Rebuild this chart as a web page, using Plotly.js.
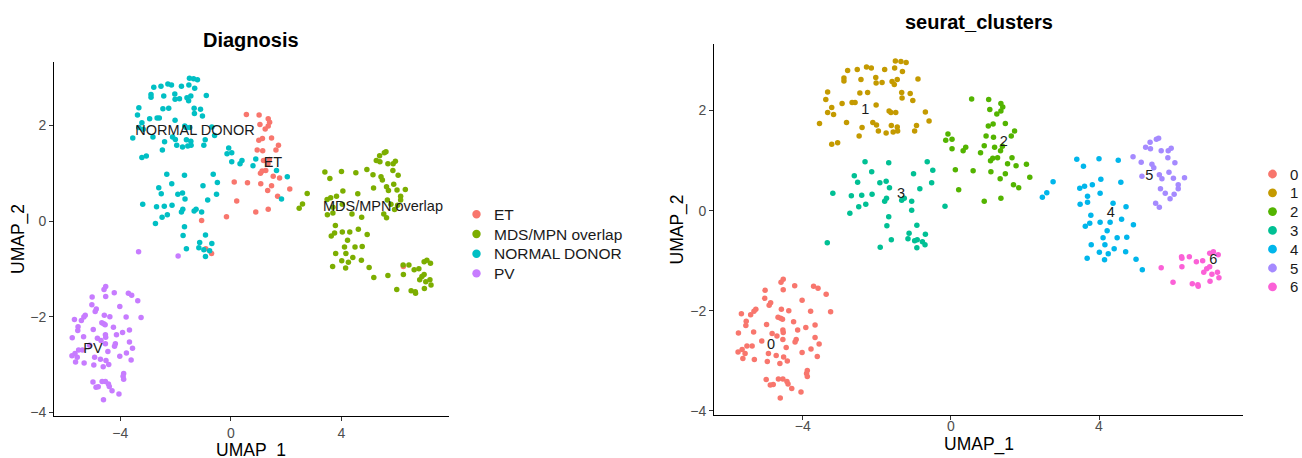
<!DOCTYPE html>
<html>
<head>
<meta charset="utf-8">
<script src="https://cdn.plot.ly/plotly-3.0.1.min.js"></script>
<style>
  html, body { margin: 0; padding: 0; background: #ffffff; }
  #chart { width: 1302px; height: 458px; }
</style>
</head>
<body>
<div id="chart"></div>
<script>
// UMAP embedding, one array per Seurat cluster: [UMAP_1, UMAP_2, diagnosis code]
// (diagnosis code omitted where the cluster default applies)
const cluster0 = [
  [-4.53,-1.37],[-4.59,-1.43],[-4.22,-1.50],[-3.71,-1.51],[-3.59,-1.55],[-5.02,-1.59],[-4.53,-1.58],[-3.37,-1.67],[-5.03,-1.75],[-4.02,-1.79],
  [-4.87,-1.84],[-4.91,-1.89],[-5.27,-1.97],[-5.32,-2.01],[-4.58,-1.97],[-4.38,-2.00],[-3.79,-2.01],[-3.25,-2.02],[-5.66,-2.06],[-5.41,-2.08],
  [-4.67,-2.13],[-4.60,-2.15],[-4.55,-2.17],[-5.53,-2.21],[-5.54,-2.29],[-4.98,-2.27],[-4.25,-2.22],[-3.92,-2.33],[-3.67,-2.28],[-4.54,-2.38],
  [-4.53,-2.43],[-4.14,-2.38],[-5.74,-2.44],[-5.33,-2.42],[-4.83,-2.45],[-4.70,-2.50],[-3.67,-2.53],[-5.11,-2.60],[-4.54,-2.57],[-4.18,-2.57],
  [-4.21,-2.62],[-3.56,-2.66],[-5.51,-2.70],[-5.37,-2.70],[-5.64,-2.77],[-5.75,-2.82],[-4.45,-2.73],[-3.78,-2.76],[-4.02,-2.83],[-5.56,-2.85],
  [-4.93,-2.85],[-4.72,-2.89],[-4.52,-2.92],[-3.61,-2.91],[-5.62,-2.95],[-5.31,-2.97],[-4.42,-3.00],[-4.96,-3.01],[-4.62,-3.05],[-3.88,-3.19],
  [-3.90,-3.25],[-3.88,-3.31],[-4.99,-3.37],[-4.66,-3.36],[-4.54,-3.36],[-4.43,-3.41],[-4.40,-3.46],[-4.88,-3.48],[-4.80,-3.47],[-4.30,-3.55],
  [-4.05,-3.62],[-4.61,-3.74]
];
const cluster1 = [
  [-1.50,2.99],[-1.35,2.98],[-1.21,2.96],[-2.79,2.80],[-2.53,2.82],[-2.28,2.87],[-2.15,2.85],[-1.79,2.82],[-1.52,2.85],[-1.31,2.78],
  [-2.89,2.65],[-2.89,2.59],[-2.43,2.62],[-2.03,2.66],[-2.02,2.55],[-1.86,2.56],[-1.59,2.58],[-1.45,2.62],[-1.53,2.52],[-0.89,2.63],
  [-3.33,2.37],[-2.46,2.35],[-2.25,2.36],[-1.33,2.36],[-1.10,2.34],[-3.38,2.22],[-1.32,2.25],[-1.03,2.20],
  [-2.94,2.14],[-2.67,2.16],[-2.59,2.16],[-2.02,2.11],[-3.22,2.06],[-3.33,1.96],[-3.17,1.92],[-1.67,1.99],[-1.62,1.96],[-1.49,1.96],[-0.69,1.97],
  [-3.55,1.74],[-2.82,1.76],[-2.11,1.76],[-2.01,1.71],[-2.40,1.66],[-1.61,1.70],[-1.45,1.67],[-0.93,1.70],[-1.96,1.59],[-1.75,1.55],
  [-1.56,1.57],[-1.44,1.59],[-0.98,1.59],[-0.59,1.79],[-2.48,1.49],[-3.22,1.33],[-3.06,1.36]
];
const cluster2 = [
  [0.56,2.23,'ET'],[1.02,2.22,'ET'],[1.35,2.14,'ET'],[1.40,2.07,'ET'],[1.05,2.02,'ET'],[1.35,1.99,'ET'],[1.24,1.93,'ET'],
  [1.01,1.69,'ET'],[1.14,1.73,'ET'],[1.47,1.74,'ET'],[1.72,1.59,'ET'],[1.63,1.49,'ET'],[-0.08,1.53,'ND'],[-0.14,1.41,'ND'],
  [0.03,1.43,'ND'],[0.95,1.49,'ET'],[1.15,1.47,'ET'],[0.90,1.30,'ND'],[1.18,1.27,'ET'],[1.39,1.29,'ET'],[1.34,1.20,'ET'],
  [0.03,1.24,'ND'],[0.40,1.27,'ND'],[0.33,1.20,'ND'],[0.80,1.16,'ND'],[1.07,1.00,'ET'],[1.13,1.05,'ET'],[1.26,1.06,'ET'],
  [1.65,1.06,'ND'],[1.53,0.94,'ET'],[1.76,0.90,'ET'],[2.04,0.93,'ND'],[0.12,0.82,'ET'],[0.60,0.80,'ET'],[1.08,0.78,'ET'],
  [1.47,0.74,'ET'],[1.33,0.64,'ET'],[2.13,0.67,'ET'],[1.69,0.52,'ET'],[1.83,0.46,'ND'],[0.21,0.42,'ET'],[0.90,0.19,'ET'],
  [1.35,0.25,'ET']
];
const cluster3 = [
  [-2.32,0.98],[-1.68,0.96],[-0.64,0.98],[-2.14,0.78],[-0.49,0.81],[-2.61,0.70],[-1.01,0.74],[-2.52,0.57],[-1.92,0.56],[-1.75,0.59],
  [-1.66,0.46],[-0.52,0.56],[-0.84,0.44],[-3.19,0.35],[-2.69,0.30],[-2.41,0.31],[-2.13,0.33],[-1.74,0.25],[-1.79,0.19],[-1.33,0.21],
  [-1.26,0.25],[-1.06,0.19],[-2.49,0.08],[-2.30,0.13],[-2.73,-0.05],[-1.06,0.01,'ET'],[-1.68,-0.12],[-1.73,-0.30],[-0.92,-0.29],
  [-1.13,-0.45],[-0.69,-0.47],[-1.16,-0.56],[-1.61,-0.58],[-0.98,-0.60],[-0.91,-0.58,'ET'],[-0.77,-0.62],[-0.70,-0.68,'ET'],
  [-0.92,-0.74],[-1.91,-0.73,'PV'],[-3.34,-0.64,'PV'],[-0.16,0.09,'ET']
];
const cluster4 = [
  [3.40,1.03],[4.00,1.04],[4.52,1.01],[3.58,0.89],[2.76,0.58],[2.59,0.36],[2.47,0.27],[3.48,0.45],[3.61,0.49],[3.82,0.52],
  [4.05,0.63],[4.59,0.57],[4.03,0.35],[3.69,0.29],[3.69,0.17],[3.49,0.13],[4.38,0.15],[4.73,0.08],[3.78,-0.09],[3.63,-0.31],
  [3.75,-0.25],[4.03,-0.23],[4.30,-0.23],[4.61,-0.17],[4.93,-0.28],[4.22,-0.40],[4.11,-0.54],[4.49,-0.54],[4.75,-0.53],[3.79,-0.68],
  [4.16,-0.68],[4.41,-0.76],[4.01,-0.83],[4.25,-0.86],[4.72,-0.82],[3.68,-0.95],[4.15,-0.98],[5.00,-0.97],[5.17,-1.18]
];
const cluster5 = [
  [5.55,1.43],[5.61,1.45],[5.38,1.37],[5.26,1.27],[5.39,1.24],[5.68,1.20],[5.87,1.20],[5.95,1.25],[4.92,1.08],[5.14,0.97],
  [5.43,0.93],[5.48,0.86],[5.86,1.06],[6.05,0.96],[5.16,0.69],[5.63,0.72],[5.70,0.64],[5.89,0.77],[6.01,0.65],[6.31,0.66],
  [6.14,0.52],[5.66,0.44],[6.14,0.44],[5.79,0.35],[6.03,0.33],[5.92,0.24],[5.53,0.15],[5.63,0.07]
];
const cluster6 = [
  [6.99,-0.85],[7.09,-0.82],[7.22,-0.88],[6.23,-0.92],[6.24,-0.95,'ET'],[6.44,-0.92],[6.63,-1.02],[6.80,-1.00],[5.68,-1.14],[6.24,-1.12],
  [6.91,-1.16],[6.99,-1.12],[6.83,-1.23],[7.05,-1.27],[7.20,-1.23],[7.24,-1.34],[6.00,-1.43],[6.52,-1.46],[6.67,-1.48],[6.68,-1.51],
  [7.00,-1.41]
];

const clusters = [cluster0, cluster1, cluster2, cluster3, cluster4, cluster5, cluster6];
const clusterLevels = ['0', '1', '2', '3', '4', '5', '6'];
const clusterDefaultDiagnosis = ['PV', 'ND', 'ET', 'ND', 'MDS', 'MDS', 'MDS'];

const diagnosisCodes = ['ET', 'MDS', 'ND', 'PV'];
const diagnosisLevels = ['ET', 'MDS/MPN overlap', 'NORMAL DONOR', 'PV'];

// where the group labels sit on each panel (UMAP units)
const diagnosisLabelX = [1.52, 5.50, -1.30, -4.99];
const diagnosisLabelY = [1.21, 0.29, 1.88, -2.68];
const clusterLabelX = [-4.86, -2.31, 1.43, -1.35, 4.32, 5.36, 7.09];
const clusterLabelY = [-2.68, 2.01, 1.37, 0.33, -0.05, 0.69, -0.99];

// ggplot2 default hue palettes
const diagnosisColors = ['#F8766D', '#7CAE00', '#00BFC4', '#C77CFF'];
const clusterColors = ['#F8766D', '#C49A00', '#53B400', '#00C094', '#00B6EB', '#A58AFF', '#FB61D7'];

// flatten into per-cell records
const cells = [];
clusters.forEach((pts, ci) => {
  pts.forEach(p => cells.push({ u: p[0], v: p[1], cluster: ci, diag: p[2] || clusterDefaultDiagnosis[ci] }));
});

const FONT = 'Liberation Sans, Arial, Helvetica, sans-serif';
const POINT_SIZE = 5.5;
const traces = [];

// left panel: cells coloured by diagnosis
diagnosisCodes.forEach((code, di) => {
  const sel = cells.filter(c => c.diag === code);
  traces.push({
    type: 'scatter', mode: 'markers', xaxis: 'x', yaxis: 'y', name: diagnosisLevels[di],
    x: sel.map(c => c.u), y: sel.map(c => c.v),
    marker: { color: diagnosisColors[di], size: POINT_SIZE },
    showlegend: false, hoverinfo: 'skip'
  });
});
traces.push({
  type: 'scatter', mode: 'text', xaxis: 'x', yaxis: 'y',
  x: diagnosisLabelX, y: diagnosisLabelY, text: diagnosisLevels,
  textfont: { family: FONT, size: 14.5, color: '#1a1a1a' },
  showlegend: false, hoverinfo: 'skip'
});

// right panel: cells coloured by cluster
clusterLevels.forEach((name, ci) => {
  const sel = cells.filter(c => c.cluster === ci);
  traces.push({
    type: 'scatter', mode: 'markers', xaxis: 'x2', yaxis: 'y2', name: name,
    x: sel.map(c => c.u), y: sel.map(c => c.v),
    marker: { color: clusterColors[ci], size: POINT_SIZE },
    showlegend: false, hoverinfo: 'skip'
  });
});
traces.push({
  type: 'scatter', mode: 'text', xaxis: 'x2', yaxis: 'y2',
  x: clusterLabelX, y: clusterLabelY, text: clusterLevels,
  textfont: { family: FONT, size: 14.5, color: '#1a1a1a' },
  showlegend: false, hoverinfo: 'skip'
});

const W = 1302, H = 458;
const px = x => x / W;
const py = y => 1 - y / H;

function axisStyle(extra) {
  return Object.assign({
    showgrid: false, zeroline: false,
    showline: true, linecolor: '#000000', linewidth: 1,
    ticks: 'outside', ticklen: 4, tickwidth: 1, tickcolor: '#333333',
    tickfont: { family: FONT, size: 14, color: '#4D4D4D' },
    fixedrange: true
  }, extra);
}

const xRange = [-6.4, 7.89];
const yRange = [-4.08, 3.33];

// ggplot-style keys: a filled dot and a label per level
function legendKeys(levels, colors, dotX, textX, firstY, step, fontSize, radius) {
  const shapes = [], notes = [];
  levels.forEach((name, i) => {
    const cy = firstY + i * step;
    shapes.push({
      type: 'circle', xref: 'paper', yref: 'paper',
      x0: px(dotX - radius), x1: px(dotX + radius),
      y0: py(cy + radius), y1: py(cy - radius),
      fillcolor: colors[i], line: { width: 0 }
    });
    notes.push({
      text: name, x: px(textX), y: py(cy), xref: 'paper', yref: 'paper',
      xanchor: 'left', yanchor: 'middle', showarrow: false,
      font: { family: FONT, size: fontSize, color: '#1a1a1a' }
    });
  });
  return { shapes, notes };
}
const diagKeys = legendKeys(diagnosisLevels, diagnosisColors, 476.5, 492, 214.3, 19.7, 15.5, 4.2);
const clusterKeys = legendKeys(clusterLevels, clusterColors, 1272.5, 1288, 174, 18.8, 15, 4.4);

const layout = {
  width: W, height: H,
  margin: { l: 0, r: 0, t: 0, b: 0 },
  paper_bgcolor: '#ffffff', plot_bgcolor: '#ffffff',
  font: { family: FONT },
  showlegend: false,
  xaxis: axisStyle({ domain: [px(54), px(449)], range: xRange, tickvals: [-4, 0, 4], anchor: 'y' }),
  yaxis: axisStyle({ domain: [py(416), py(62)], range: yRange, tickvals: [-4, -2, 0, 2], anchor: 'x' }),
  xaxis2: axisStyle({ domain: [px(714), px(1243)], range: xRange, tickvals: [-4, 0, 4], anchor: 'y2', ticklabelstandoff: -6 }),
  yaxis2: axisStyle({ domain: [py(415), py(44)], range: yRange, tickvals: [-4, -2, 0, 2], anchor: 'x2' }),
  shapes: diagKeys.shapes.concat(clusterKeys.shapes),
  annotations: [
    { text: '<b>Diagnosis</b>', x: px(251.5), y: py(40), xref: 'paper', yref: 'paper',
      xanchor: 'center', yanchor: 'middle', showarrow: false, font: { family: FONT, size: 20, color: '#000' } },
    { text: '<b>seurat_clusters</b>', x: px(978.5), y: py(22), xref: 'paper', yref: 'paper',
      xanchor: 'center', yanchor: 'middle', showarrow: false, font: { family: FONT, size: 20, color: '#000' } },
    { text: 'UMAP_1', x: px(251.5), y: py(450), xref: 'paper', yref: 'paper',
      xanchor: 'center', yanchor: 'middle', showarrow: false, font: { family: FONT, size: 17.5, color: '#000' } },
    { text: 'UMAP_1', x: px(978.5), y: py(444), xref: 'paper', yref: 'paper',
      xanchor: 'center', yanchor: 'middle', showarrow: false, font: { family: FONT, size: 17.5, color: '#000' } },
    { text: 'UMAP_2', x: px(18), y: py(239), xref: 'paper', yref: 'paper', textangle: -90,
      xanchor: 'center', yanchor: 'middle', showarrow: false, font: { family: FONT, size: 17.5, color: '#000' } },
    { text: 'UMAP_2', x: px(677), y: py(229.5), xref: 'paper', yref: 'paper', textangle: -90,
      xanchor: 'center', yanchor: 'middle', showarrow: false, font: { family: FONT, size: 17.5, color: '#000' } }
  ].concat(diagKeys.notes, clusterKeys.notes)
};

Plotly.newPlot('chart', traces, layout, { staticPlot: true, displayModeBar: false });
</script>
</body>
</html>
